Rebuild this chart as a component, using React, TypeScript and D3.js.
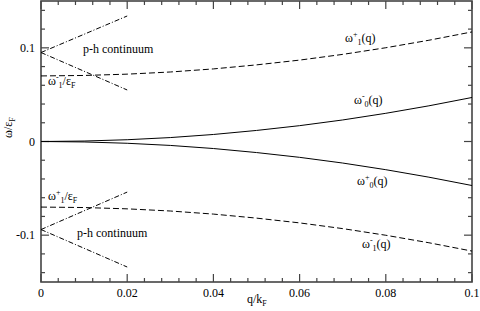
import React, { useEffect, useRef } from 'react';
import * as d3 from 'd3';

// q/kF sample points for the dispersion curves
const qValues = [0, 0.01, 0.02, 0.03, 0.04, 0.05, 0.06, 0.07, 0.08, 0.09, 0.1];
// dashed branches
const omega1Plus = [0.07, 0.0705, 0.0719, 0.0742, 0.0775, 0.0818, 0.0869, 0.093, 0.1001, 0.1081, 0.117];
const omega1Minus = [-0.07, -0.0705, -0.0719, -0.0742, -0.0775, -0.0818, -0.0869, -0.093, -0.1001, -0.1081, -0.117];
// solid branches
const omega0Minus = [0, 0.0005, 0.0019, 0.0042, 0.0075, 0.0118, 0.0169, 0.023, 0.0301, 0.0381, 0.047];
const omega0Plus = [0, -0.0005, -0.0019, -0.0042, -0.0075, -0.0118, -0.0169, -0.023, -0.0301, -0.0381, -0.047];

// p-h continuum edges (dash-dot)
const phQ = [0, 0.02];
const phTopHigh = [0.095, 0.134];
const phTopLow = [0.095, 0.055];
const phBottomHigh = [-0.094, -0.054];
const phBottomLow = [-0.094, -0.134];

const xTickLabels = [0, 0.02, 0.04, 0.06, 0.08, 0.1];
const yTickLabels = [-0.1, 0, 0.1];

const FONT = 'Liberation Serif, DejaVu Serif, serif';

type Part = [string, 'n' | 'sup' | 'sub'];

function addLabel(parent: any, x: number, y: number, parts: Part[], size = 12) {
    const t = parent.append('text')
        .attr('x', x)
        .attr('y', y)
        .style('font-family', FONT)
        .attr('font-size', size)
        .attr('fill', '#000');
    let offset = 0;
    parts.forEach(([s, kind]) => {
        const target = kind === 'sup' ? -5 : kind === 'sub' ? 3 : 0;
        t.append('tspan')
            .attr('dy', target - offset)
            .attr('font-size', kind === 'n' ? size : 8)
            .text(s);
        offset = target;
    });
    return t;
}

export default function App() {
    const ref = useRef<SVGSVGElement>(null);

    useEffect(() => {
        const svg = d3.select(ref.current);
        svg.selectAll('*').remove();

        const left = 41, right = 472, top = 1, bottom = 282;

        const x = d3.scaleLinear().domain([0, 0.1]).range([left, right]);
        const y = d3.scaleLinear().domain([-0.15, 0.15]).range([bottom, top]);

        const line = d3.line<[number, number]>()
            .x(d => x(d[0]))
            .y(d => y(d[1]));

        const curve = (vals: number[], qs: number[]) => qs.map((q, i) => [q, vals[i]] as [number, number]);

        // ticks (inward, on all four sides)
        const ticks = svg.append('g').attr('stroke', '#444').attr('stroke-width', 1.2);
        const xMinor = d3.range(0, 0.1001, 0.004);
        xMinor.forEach((v, i) => {
            const len = i % 5 === 0 ? 8 : 4;
            ticks.append('line').attr('x1', x(v)).attr('x2', x(v)).attr('y1', bottom).attr('y2', bottom - len);
            ticks.append('line').attr('x1', x(v)).attr('x2', x(v)).attr('y1', top).attr('y2', top + len);
        });
        const yMinor = d3.range(-0.14, 0.1401, 0.02);
        yMinor.forEach(v => {
            const major = Math.abs(Math.round(v * 100) % 10) === 0;
            const len = major ? 8 : 4;
            ticks.append('line').attr('x1', left).attr('x2', left + len).attr('y1', y(v)).attr('y2', y(v));
            ticks.append('line').attr('x1', right).attr('x2', right - len).attr('y1', y(v)).attr('y2', y(v));
        });

        // frame
        svg.append('rect')
            .attr('x', left).attr('y', top)
            .attr('width', right - left).attr('height', bottom - top)
            .attr('fill', 'none')
            .attr('stroke', '#444')
            .attr('stroke-width', 1.6);

        // tick labels
        svg.selectAll('.xlab')
            .data(xTickLabels)
            .enter()
            .append('text')
            .attr('x', d => x(d))
            .attr('y', 297)
            .attr('text-anchor', 'middle')
            .style('font-family', FONT)
            .attr('font-size', 12)
            .text(d => String(d));

        svg.selectAll('.ylab')
            .data(yTickLabels)
            .enter()
            .append('text')
            .attr('x', 35)
            .attr('y', d => y(d) + 4)
            .attr('text-anchor', 'end')
            .style('font-family', FONT)
            .attr('font-size', 12)
            .text(d => String(d));

        // curves
        const curves = svg.append('g').attr('fill', 'none').attr('stroke', '#000').attr('stroke-width', 1);
        curves.append('path').attr('d', line(curve(omega1Plus, qValues))).attr('stroke-dasharray', '6,3');
        curves.append('path').attr('d', line(curve(omega1Minus, qValues))).attr('stroke-dasharray', '6,3');
        curves.append('path').attr('d', line(curve(omega0Minus, qValues)));
        curves.append('path').attr('d', line(curve(omega0Plus, qValues)));

        [phTopHigh, phTopLow, phBottomHigh, phBottomLow].forEach(vals => {
            curves.append('path')
                .attr('d', line(curve(vals, phQ)))
                .attr('stroke-dasharray', '5,2,1,2');
        });

        // annotations
        addLabel(svg, 83, 53, [['p-h continuum', 'n']]);
        addLabel(svg, 77, 237, [['p-h continuum', 'n']]);
        addLabel(svg, 48, 85, [['ω', 'n'], ['-', 'sup'], ['1', 'sub'], ['/ε', 'n'], ['F', 'sub']]);
        addLabel(svg, 48, 200, [['ω', 'n'], ['+', 'sup'], ['1', 'sub'], ['/ε', 'n'], ['F', 'sub']]);
        addLabel(svg, 345, 42, [['ω', 'n'], ['+', 'sup'], ['1', 'sub'], ['(q)', 'n']]);
        addLabel(svg, 354, 104, [['ω', 'n'], ['-', 'sup'], ['0', 'sub'], ['(q)', 'n']]);
        addLabel(svg, 357, 185, [['ω', 'n'], ['+', 'sup'], ['0', 'sub'], ['(q)', 'n']]);
        addLabel(svg, 362, 248, [['ω', 'n'], ['-', 'sup'], ['1', 'sub'], ['(q)', 'n']]);

        // axis titles
        addLabel(svg, 247, 303, [['q/k', 'n'], ['F', 'sub']]);
        const yt = addLabel(svg, 0, 0, [['ω/ε', 'n'], ['F', 'sub']]);
        yt.attr('transform', 'translate(12,138) rotate(-90)');
    }, []);

    return (
        <svg ref={ref} width={480} height={311}
             style={{ position: 'absolute', left: 0, top: 0, background: '#fff' }} />
    );
}
